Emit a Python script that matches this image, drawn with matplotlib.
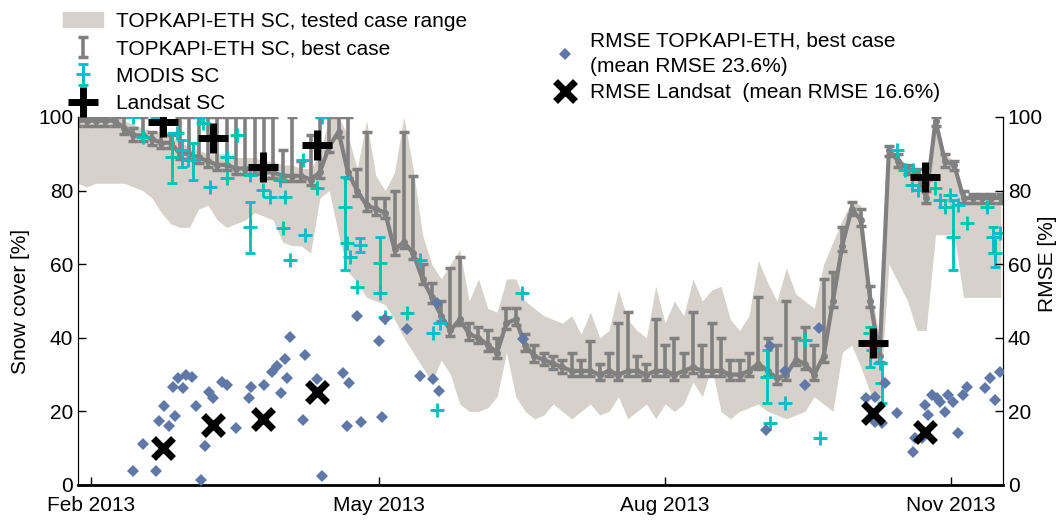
import numpy as np
import matplotlib.pyplot as plt
from matplotlib.patches import Patch
from matplotlib.lines import Line2D

plt.rcParams['font.family'] = ['Liberation Sans', 'DejaVu Sans']
plt.rcParams['font.size'] = 15

# model days (day of year 2013), every 3 days
days = np.arange(24, 322, 3)

best_sc = [99, 99, 99, 99, 99, 97, 95, 95, 94, 93,
           93, 90, 90, 89, 88, 87, 87, 86, 86, 86,
           85, 85, 84, 84, 84, 83, 85, 92, 96, 85,
           80, 76, 75, 74, 64, 66, 63, 56, 51, 46,
           42, 45, 41, 40, 38, 36, 44, 45, 38, 35,
           34, 33, 32, 31, 31, 31, 30, 31, 30, 31,
           31, 30, 31, 31, 30, 31, 32, 31, 31, 31,
           30, 30, 31, 33, 31, 29, 30, 34, 33, 30,
           35, 50, 65, 75, 72, 50, 35, 91, 88, 86,
           85, 78, 99, 88, 87, 78, 78, 78, 78, 78]
best_top = [100, 100, 100, 100, 100, 100, 97, 100, 96, 100,
            95, 100, 100, 100, 100, 100, 100, 100, 100, 100,
            100, 100, 91, 100, 88, 95, 100, 100, 100, 100,
            86, 96, 78, 78, 80, 96, 84, 60, 55, 50,
            59, 62, 44, 43, 42, 40, 48, 48, 41, 38,
            36, 35, 34, 36, 34, 39, 33, 36, 44, 47,
            35, 33, 45, 38, 40, 36, 47, 38, 44, 40,
            34, 34, 36, 51, 40, 38, 50, 40, 43, 38,
            56, 58, 70, 77, 75, 54, 38, 92, 90, 87,
            86, 80, 100, 90, 88, 80, 79, 79, 79, 79]
range_hi = [100, 100, 100, 100, 100, 99, 98, 97, 96, 96,
            95, 93, 92, 91, 90, 90, 90, 89, 89, 89,
            88, 88, 87, 87, 86, 86, 90, 100, 100, 95,
            86, 99, 84, 80, 85, 100, 86, 68, 60, 56,
            60, 64, 50, 56, 48, 47, 56, 56, 50, 48,
            46, 45, 44, 46, 41, 47, 40, 42, 53, 45,
            42, 40, 54, 44, 50, 46, 56, 50, 53, 54,
            45, 42, 46, 61, 55, 50, 59, 52, 50, 48,
            60, 66, 72, 77, 76, 54, 40, 92, 89, 87,
            86, 82, 100, 90, 88, 79, 78, 78, 78, 78]
range_lo = [82, 81, 82, 82, 82, 82, 81, 80, 78, 74,
            71, 70, 70, 75, 76, 72, 70, 71, 72, 74,
            73, 72, 66, 65, 65, 63, 78, 80, 68, 58,
            55, 51, 50, 49, 45, 40, 36, 32, 28, 34,
            30, 22, 20, 20, 21, 24, 36, 24, 20, 18,
            19, 22, 20, 18, 20, 22, 19, 20, 24, 18,
            20, 22, 18, 22, 20, 22, 28, 24, 32, 20,
            18, 20, 21, 22, 20, 19, 18, 19, 20, 24,
            22, 20, 36, 38, 32, 25, 22, 60, 55, 50,
            42, 42, 68, 68, 68, 51, 51, 51, 51, 51]

# MODIS snow cover
modis_day = [41.9, 45.1, 49.6, 54.4, 56.0, 57.6, 59.6, 61.2, 63.4, 64.4,
             66.7, 72.1, 72.1, 75.3, 79.5, 79.5, 83.7, 85.9, 89.2, 90.8,
             90.1, 92.4, 96.6, 97.2, 101.1, 102.7, 110.1, 110.7, 111.7, 113.9,
             114.9, 121.3, 121.3, 122.9, 130.0, 134.2, 138.4, 140.6, 139.7, 167.0,
             245.8, 246.8, 251.6, 258.0, 262.9, 278.9, 279.9, 282.2, 282.8, 287.6,
             290.2, 292.8, 292.5, 294.4, 296.6, 299.9, 301.5, 303.1, 304.7, 305.6,
             307.3, 310.1, 316.6, 318.5, 319.2, 320.8]
modis_sc = [100, 94.6, 100, 89.1, 95.7, 91.0, 88.3, 88.3, 100, 98.4,
            81.0, 89.1, 83.4, 95.1, 84.2, 70.1, 80.2, 78.3, 82.9, 78.3,
            69.8, 61.1, 88.3, 67.9, 80.7, 100, 75.5, 65.8, 62.0, 53.8,
            65.2, 60.3, 52.2, 45.7, 46.7, 61.1, 41.3, 44.0, 20.4, 52.2,
            29.3, 16.8, 22.3, 39.4, 12.8, 41.3, 36.7, 33.2, 27.7, 91.0,
            85.6, 85.6, 81.5, 80.2, 82.9, 80.7, 77.4, 75.5, 78.8, 67.4,
            76.1, 71.2, 75.5, 67.4, 63.0, 68.5]
modis_err_lo = [0, 0, 0, 7.0, 0, 4.6, 0, 5.3, 0, 0,
                0, 0, 0, 0, 0, 7.1, 0, 0, 0, 0,
                0, 0, 0, 0, 0, 0, 17.1, 0, 0, 0,
                1.9, 8.1, 0, 0, 0, 0, 0, 0, 0, 0,
                7.0, 0, 0, 0, 0, 9.2, 0, 0, 5.4, 0,
                0, 0, 0, 0, 0, 0, 0, 0, 0, 9.0,
                0, 0, 0, 4.4, 3.8, 0]
modis_err_hi = [0, 0, 0, 6.6, 0, 2.8, 0, 4.6, 0, 0,
                0, 0, 0, 0, 0, 6.8, 0, 0, 0, 0,
                0, 0, 0, 0, 0, 0, 8.2, 0, 0, 0,
                1.9, 7.1, 0, 0, 0, 0, 0, 0, 0, 0,
                7.4, 0, 0, 0, 0, 1.6, 0, 0, 5.5, 0,
                0, 0, 0, 0, 0, 0, 0, 0, 0, 10.0,
                0, 0, 0, 2.7, 4.4, 0]

# Landsat snow cover and its RMSE
landsat_day = [51.5, 67.6, 83.7, 101.1, 279.9, 296.6]
landsat_sc = [98.6, 94.3, 86.4, 92.4, 38.6, 83.7]
landsat_rmse = [10.1, 16.3, 17.9, 25.3, 19.6, 14.4]

# RMSE of TOPKAPI-ETH best case vs MODIS
rmse_day = [41.9, 45.1, 49.3, 50.2, 51.9, 53.5, 54.8, 55.4, 56.4, 58.0,
            58.9, 60.9, 62.2, 63.8, 65.0, 66.3, 67.6, 70.5, 72.1, 75.0,
            79.2, 79.8, 84.0, 86.6, 88.2, 89.5, 90.8, 91.4, 92.4, 96.6,
            97.2, 101.1, 102.7, 109.4, 111.4, 110.7, 115.2, 113.9, 121.0, 122.9,
            130.0, 122.0, 134.2, 138.4, 140.3, 139.7, 167.3, 245.5, 246.8, 251.6,
            258.0, 262.5, 277.7, 280.6, 283.8, 280.6, 282.8, 287.6, 292.8, 293.4,
            295.7, 296.6, 297.6, 298.9, 300.5, 301.5, 303.1, 304.0, 305.6, 307.3,
            308.9, 310.1, 315.9, 317.5, 319.2, 320.8]
rmse_val = [3.8, 11.1, 3.8, 17.4, 21.5, 16.0, 26.6, 18.8, 29.1, 26.4,
            29.9, 29.3, 21.5, 1.4, 10.6, 25.3, 23.6, 28.0, 27.2, 15.5,
            23.6, 26.6, 27.2, 30.7, 32.3, 25.0, 34.2, 29.1, 40.2, 17.7,
            35.3, 28.8, 2.4, 30.4, 27.7, 16.0, 17.1, 45.9, 39.1, 45.1,
            42.4, 18.5, 29.6, 28.8, 25.5, 49.5, 39.7, 15.0, 37.8, 31.0,
            27.2, 42.7, 23.6, 23.9, 27.7, 17.1, 16.8, 19.6, 9.0, 12.8,
            12.8, 21.7, 19.0, 24.5, 23.6, 22.6, 19.8, 24.5, 22.6, 14.1,
            24.5, 26.6, 26.4, 29.1, 23.1, 30.7]

xtick_pos = [28.5, 121, 213, 305]
xtick_lab = ['Feb 2013', 'May 2013', 'Aug 2013', 'Nov 2013']

fill_col = '#d6d2cb'
best_col = '#808080'
modis_col = '#00bfbf'
rmse_col = '#6078a8'

fig = plt.figure(figsize=(10.62, 5.24), dpi=100)
ax = fig.add_axes([78 / 1062, 39 / 524, 925 / 1062, 368 / 524])

ax.fill_between(days, range_lo, range_hi, color=fill_col, lw=0, zorder=1)

best = np.array(best_sc)
top = np.array(best_top)
ax.plot(days, best, color=best_col, lw=3, marker='o', ms=4, zorder=2)
eb_best = ax.errorbar(days, best, yerr=[np.full(len(best), 1.5), top - best],
                      fmt='none', ecolor=best_col, elinewidth=2.6, capsize=3.5,
                      capthick=2.5, zorder=2)

eb_modis = ax.errorbar(modis_day, modis_sc, yerr=[modis_err_lo, modis_err_hi],
                       fmt='+', color=modis_col, ms=10, mew=2, elinewidth=2,
                       capsize=3.5, capthick=2, zorder=3)

ax.plot(landsat_day, landsat_sc, ls='none', marker='+', color='k', ms=22,
        mew=5, zorder=4)

ax.set_xlim(24.2, 321.7)
ax.set_ylim(0, 100)
ax.set_xticks(xtick_pos)
ax.set_xticklabels(xtick_lab)
ax.set_yticks(range(0, 101, 20))
ax.set_ylabel('Snow cover [%]', labelpad=6)
ax.tick_params(direction='in', length=6, width=1, top=False, right=False)
ax.tick_params(axis='x', pad=8)
ax.spines['top'].set_visible(False)
ax.spines['bottom'].set_linewidth(2)

ax2 = ax.twinx()
ax2.plot(rmse_day, rmse_val, ls='none', marker='D', color=rmse_col, ms=6.5,
         mew=0, zorder=5)
ax2.plot(landsat_day, landsat_rmse, ls='none', marker='x', color='k', ms=14,
         mew=5, zorder=6)
ax2.set_ylim(0, 100)
ax2.set_yticks(range(0, 101, 20))
ax2.set_ylabel('RMSE [%]')
ax2.yaxis.set_label_coords(1.038, 0.6)
ax2.tick_params(direction='in', length=6, width=1)
ax2.spines['top'].set_visible(False)

h1 = [Patch(color=fill_col), eb_best, eb_modis,
      Line2D([], [], ls='none', marker='+', color='k', ms=22, mew=5)]
l1 = ['TOPKAPI-ETH SC, tested case range', 'TOPKAPI-ETH SC, best case',
      'MODIS SC', 'Landsat SC']
fig.legend(h1, l1, loc='upper left', bbox_to_anchor=(0.046, 1.005),
           frameon=False, handlelength=1.9, handletextpad=0.6,
           labelspacing=0.4, borderpad=0.2, fontsize=15)

h2 = [Line2D([], [], ls='none', marker='D', color=rmse_col, ms=6.5, mew=0),
      Line2D([], [], ls='none', marker='x', color='k', ms=14, mew=5)]
l2 = ['RMSE TOPKAPI-ETH, best case\n(mean RMSE 23.6%)',
      'RMSE Landsat  (mean RMSE 16.6%)']
leg2 = fig.legend(h2, l2, loc='upper left', bbox_to_anchor=(0.5065, 0.968),
                  frameon=False, handlelength=1.2, handletextpad=0.6,
                  labelspacing=0.35, borderpad=0.2, fontsize=15)
for t in leg2.get_texts():
    t.set_linespacing(1.45)

fig.savefig('out.png', dpi=100)
